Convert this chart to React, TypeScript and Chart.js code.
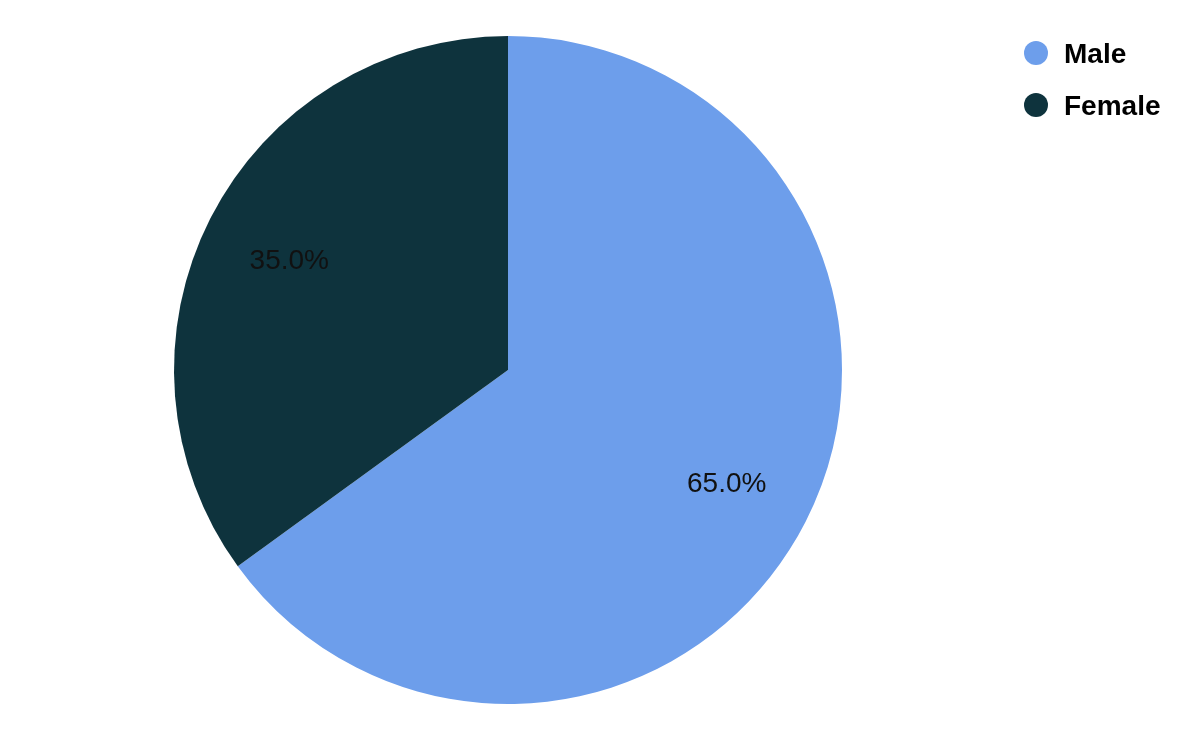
import React, { useEffect, useRef } from "react";
import { Chart, registerables } from "chart.js";

Chart.register(...registerables);

const categories = ["Male", "Female"];
const values = [65.0, 35.0];
const colors = ["#6d9eeb", "#0e333d"];

const FONT_FAMILY = "'Liberation Sans', Arial, Helvetica, sans-serif";

const labelPlugin = {
  id: "sliceLabels",
  afterDatasetsDraw(chart: any) {
    const ctx = chart.ctx;
    const meta = chart.getDatasetMeta(0);
    const total = values.reduce((a, b) => a + b, 0);
    ctx.save();
    ctx.font = "28px " + FONT_FAMILY;
    ctx.fillStyle = "#111111";
    ctx.textAlign = "center";
    ctx.textBaseline = "middle";
    meta.data.forEach((arc: any, i: number) => {
      const mid = (arc.startAngle + arc.endAngle) / 2;
      const r = arc.outerRadius * 0.735;
      const x = arc.x + Math.cos(mid) * r;
      const y = arc.y + Math.sin(mid) * r;
      ctx.fillText(((values[i] / total) * 100).toFixed(1) + "%", x, y + 3);
    });
    ctx.restore();
  },
};

const legendPlugin = {
  id: "customLegend",
  afterDraw(chart: any) {
    const ctx = chart.ctx;
    ctx.save();
    ctx.font = "bold 28px " + FONT_FAMILY;
    ctx.textAlign = "left";
    ctx.textBaseline = "middle";
    categories.forEach((c, i) => {
      const y = 53 + i * 52;
      ctx.beginPath();
      ctx.arc(1036, y, 12, 0, Math.PI * 2);
      ctx.fillStyle = colors[i];
      ctx.fill();
      ctx.fillStyle = "#000000";
      ctx.fillText(c, 1064, y + 2);
    });
    ctx.restore();
  },
};

export default function App() {
  const ref = useRef<HTMLCanvasElement>(null);
  useEffect(() => {
    const prev = document.body.style.margin;
    document.body.style.margin = "0";
    const chart = new Chart(ref.current!, {
      type: "pie",
      data: {
        labels: categories,
        datasets: [
          {
            data: values,
            backgroundColor: colors,
            borderWidth: 0,
          },
        ],
      },
      options: {
        responsive: false,
        animation: false,
        layout: { padding: { left: 174, right: 358, top: 36, bottom: 38 } },
        plugins: {
          legend: { display: false },
          tooltip: { enabled: false },
        },
      },
      plugins: [labelPlugin, legendPlugin],
    });
    return () => {
      chart.destroy();
      document.body.style.margin = prev;
    };
  }, []);
  return (
    <div style={{ width: 1200, height: 742, background: "#ffffff" }}>
      <canvas ref={ref} width={1200} height={742} style={{ display: "block" }} />
    </div>
  );
}
